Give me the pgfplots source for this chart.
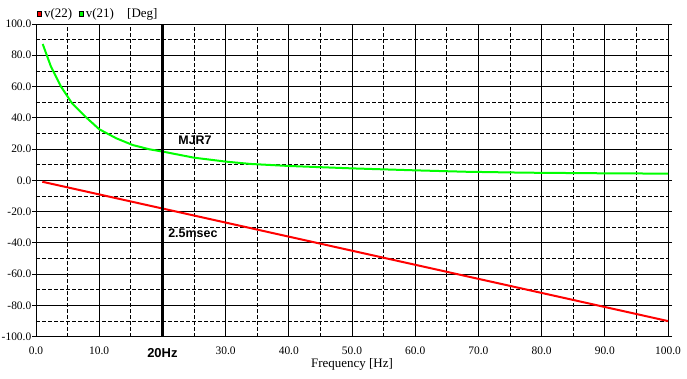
\documentclass[border=0pt]{standalone}
\usepackage{pgfplots}
\pgfplotsset{compat=1.18}
\usepackage{fontspec}
\setmainfont{Liberation Serif}
\newfontfamily\sansb{Liberation Sans}
\definecolor{cRed}{RGB}{255,0,0}
\definecolor{cGreen}{RGB}{0,255,0}
\newcommand{\keybox}[1]{{\setlength{\fboxsep}{0pt}\setlength{\fboxrule}{0.6bp}\raisebox{2.3bp}{\fcolorbox{black}{#1}{\rule{0pt}{4bp}\rule{4bp}{0pt}}}}}
\begin{document}
\begin{tikzpicture}
\path[use as bounding box] (0bp,0bp) rectangle (687bp,379bp);
\begin{axis}[
  at={(36bp,42.3bp)}, anchor=south west,
  scale only axis, width=632bp, height=312.7bp,
  xmin=0, xmax=100, ymin=-100, ymax=100,
  clip=false,
  axis line style={black, line width=0.9bp},
  xtick={0,10,20,30,40,50,60,70,80,90,100},
  xticklabels={0.0,10.0,{},30.0,40.0,50.0,60.0,70.0,80.0,90.0,100.0},
  ytick={-100,-80,-60,-40,-20,0,20,40,60,80,100},
  yticklabels={-100.0,-80.0,-60.0,-40.0,-20.0,0.0,20.0,40.0,60.0,80.0,100.0},
  minor x tick num=1, minor y tick num=1,
  grid=both,
  major grid style={black, line width=0.8bp},
  minor grid style={black, line width=0.8bp, dash pattern=on 4bp off 2bp},
  tick align=outside,
  xtick style={draw=none},
  minor tick style={draw=none},
  ytick style={black, line width=0.8bp},
  major tick length=4bp,
  ticklabel style={font=\fontsize{11.5}{12}\selectfont},
  yticklabel style={inner sep=0.5bp},
  xticklabel style={yshift=-3bp},
  xlabel={Frequency [Hz]},
  xlabel style={font=\fontsize{13}{14}\selectfont, yshift=3bp},
]
\addplot[cRed, line width=2bp] coordinates {(1,-0.9) (100,-90)};
\addplot[cGreen, line width=2bp] coordinates {
(1.06,87.2) (2.37,72.7) (3.95,60) (5.7,49.3) (7.9,40.4) (10,32.7) (12.7,26.9)
(15.3,22.6) (17.9,19.9) (20.3,18.2) (25,14.5) (30,12) (33.9,10.5) (40,9.2)
(49.7,7.7) (60,6.4) (68,5.5) (77.6,4.9) (90,4.5) (100,4.3)};
\addplot[black, line width=3bp] coordinates {(20,-100) (20,100)};
\node[anchor=base west, font=\fontsize{13}{14}\selectfont, inner sep=0pt] at (rel axis cs:0.001,1.0192) {\keybox{cRed}\hspace{2bp}v(22)\hspace{6.5bp}\keybox{cGreen}\hspace{2bp}v(21)};
\node[anchor=base west, font=\fontsize{13}{14}\selectfont, inner sep=0pt] at (rel axis cs:0.144,1.0192) {[Deg]};
\node[anchor=west, font=\sansb\bfseries\fontsize{12.5}{14}\selectfont, inner sep=0pt] at (axis cs:22.5,25.8) {MJR7};
\node[anchor=west, font=\sansb\bfseries\fontsize{12.5}{14}\selectfont, inner sep=0pt] at (axis cs:20.9,-33.6) {2.5msec};
\node[anchor=center, font=\sansb\bfseries\fontsize{13}{14}\selectfont, inner sep=0pt] at (axis cs:20,-110.4) {20Hz};
\end{axis}
\end{tikzpicture}
\end{document}
